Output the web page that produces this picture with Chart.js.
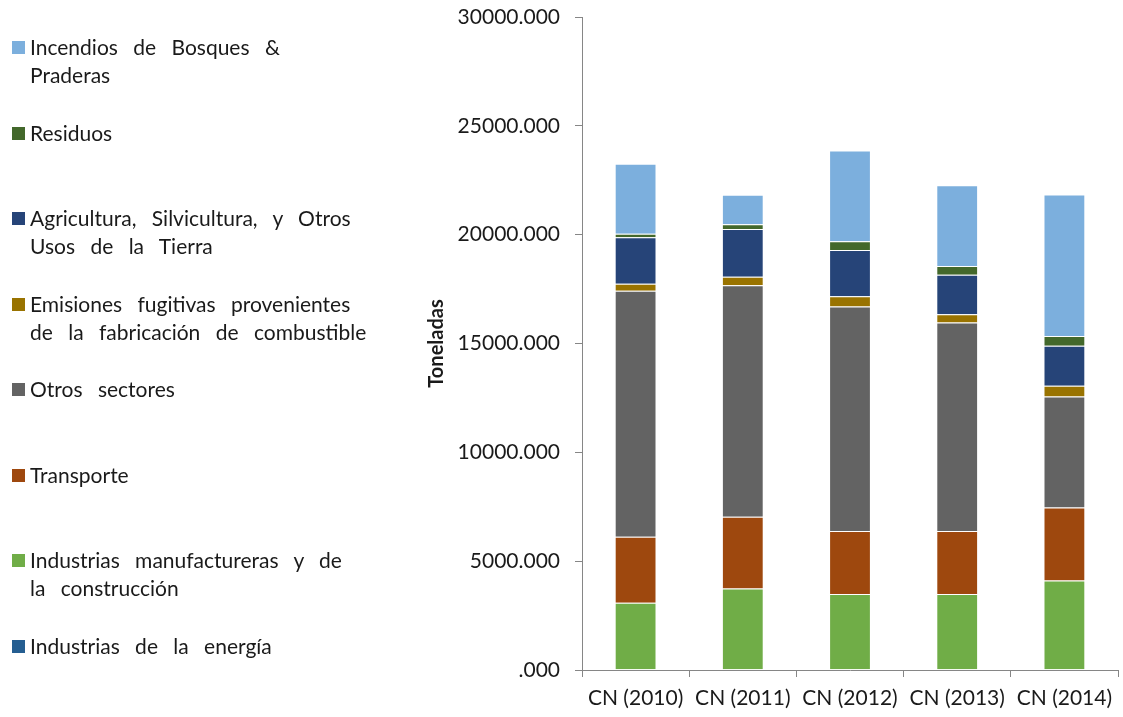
<!DOCTYPE html>
<html>
<head>
<meta charset="utf-8">
<script src="https://cdn.jsdelivr.net/npm/chart.js@4.4.0/dist/chart.umd.min.js"></script>
<style>
    html, body { margin: 0; padding: 0; background: #fff; }
    #contenedor { position: relative; width: 1123px; height: 717px; }
    #grafico { position: absolute; left: 0; top: 0; }
    #leyenda { position: absolute; left: 0; top: 0; font-family: Lato, sans-serif; font-size: 21px; color: #1a1a1a; }
    .item { position: absolute; left: 12px; width: 380px; }
    .cuadro { position: absolute; left: 0; top: 8px; width: 13px; height: 13px; }
    .texto { position: absolute; left: 18px; top: 0; width: 360px; line-height: 28px; white-space: pre-line; word-spacing: 10px; }
</style>
</head>
<body>
<div id="contenedor">
    <canvas id="grafico" width="1123" height="717"></canvas>
    <div id="leyenda"></div>
</div>
<script>
// Datos del gráfico (Toneladas)
const categorias = ['CN (2010)', 'CN (2011)', 'CN (2012)', 'CN (2013)', 'CN (2014)'];

const energia = [30, 30, 30, 30, 30];
const manufactureras = [3060, 3720, 3460, 3460, 4080];
const transporte = [3030, 3290, 2900, 2900, 3350];
const otrosSectores = [11300, 10640, 10310, 9570, 5100];
const fugitivas = [320, 390, 470, 380, 500];
const agricultura = [2140, 2190, 2130, 1820, 1840];
const residuos = [160, 220, 400, 400, 440];
const incendios = [3220, 1350, 4170, 3710, 6510];

const ticksY = [0, 5000, 10000, 15000, 20000, 25000, 30000];

// Series de abajo hacia arriba
const series = [
    { nombre: 'Industrias de la energía', datos: energia, color: '#255E91' },
    { nombre: 'Industrias manufactureras y de\nla construcción', datos: manufactureras, color: '#70AD47' },
    { nombre: 'Transporte', datos: transporte, color: '#9E480E' },
    { nombre: 'Otros sectores', datos: otrosSectores, color: '#636363' },
    { nombre: 'Emisiones fugitivas provenientes\nde la fabricación de combustible', datos: fugitivas, color: '#997300' },
    { nombre: 'Agricultura, Silvicultura, y Otros\nUsos de la Tierra', datos: agricultura, color: '#264478' },
    { nombre: 'Residuos', datos: residuos, color: '#43682B' },
    { nombre: 'Incendios de Bosques &\nPraderas', datos: incendios, color: '#7CAFDD' }
];

const fuente = 'Lato, sans-serif';
const gris = '#868686';

function crearGrafico() {
    const ctx = document.getElementById('grafico').getContext('2d');
    return new Chart(ctx, {
        type: 'bar',
        data: {
            labels: categorias,
            datasets: series.map(s => ({
                label: s.nombre.replace('\n', ' '),
                data: s.datos,
                backgroundColor: s.color,
                borderColor: 'rgba(255,255,255,0.3)',
                borderWidth: 1,
                categoryPercentage: 1,
                barPercentage: 0.39
            }))
        },
        options: {
            responsive: false,
            animation: false,
            layout: { padding: { left: 425, top: 17, right: 5, bottom: 0 } },
            plugins: {
                legend: { display: false },
                tooltip: { enabled: false }
            },
            scales: {
                x: {
                    stacked: true,
                    afterFit: scale => { scale.height = 47; },
                    grid: { drawOnChartArea: false, drawTicks: true, tickLength: 7, color: gris },
                    border: { color: gris },
                    ticks: { padding: 9, color: '#1a1a1a', font: { family: fuente, size: 21 }, maxRotation: 0 }
                },
                y: {
                    stacked: true,
                    min: 0,
                    max: 30000,
                    afterFit: scale => {
                        scale.width = 157;
                        scale.paddingTop = 0;
                        scale.paddingBottom = 0;
                    },
                    afterBuildTicks: scale => { scale.ticks = ticksY.map(v => ({ value: v })); },
                    grid: { drawOnChartArea: false, drawTicks: true, tickLength: 7, color: gris },
                    border: { color: gris },
                    title: {
                        display: true,
                        text: 'Toneladas',
                        color: '#1a1a1a',
                        font: { family: fuente, size: 20, weight: 'bold' },
                        padding: { top: 0, bottom: 9 }
                    },
                    ticks: {
                        padding: 15,
                        color: '#1a1a1a',
                        font: { family: fuente, size: 21 },
                        callback: v => (v === 0 ? '' : String(v)) + '.000'
                    }
                }
            }
        }
    });
}

// Leyenda a la izquierda, de arriba hacia abajo
function crearLeyenda() {
    const contenedor = document.getElementById('leyenda');
    contenedor.innerHTML = series.slice().reverse().map((s, i) =>
        `<div class="item" style="top:${33 + i * 85.5}px"><div class="cuadro" style="background:${s.color}"></div><div class="texto">${s.nombre}</div></div>`
    ).join('');
}

crearGrafico();
crearLeyenda();
</script>
</body>
</html>
